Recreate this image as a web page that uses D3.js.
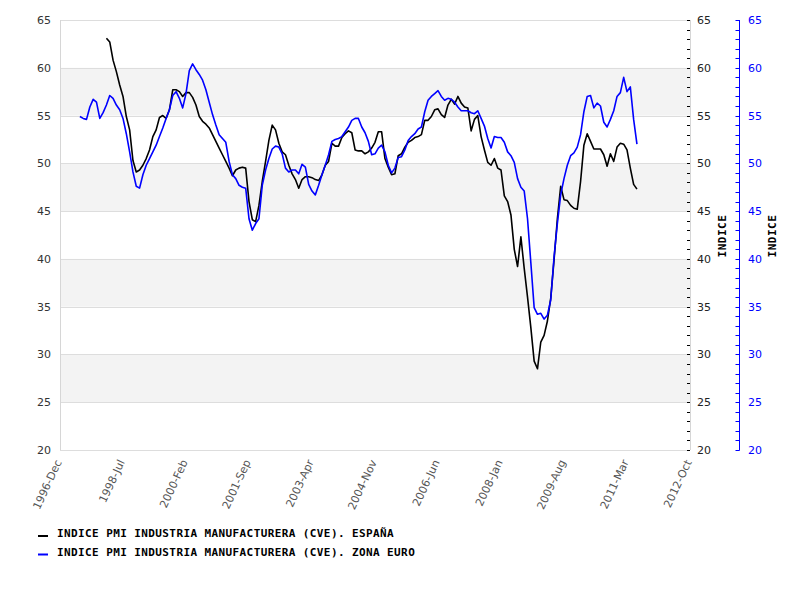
<!DOCTYPE html>
<html><head><meta charset="utf-8">
<script src="https://cdn.jsdelivr.net/npm/d3@7"></script>
<style>body{margin:0;background:#fff}</style>
</head><body>
<svg id="c" width="800" height="600"></svg>
<script>
const xTickLabels = ["1996-Dec","1998-Jul","2000-Feb","2001-Sep","2003-Apr","2004-Nov","2006-Jun","2008-Jan","2009-Aug","2011-Mar","2012-Oct"];
const yTicks = [20,25,30,35,40,45,50,55,60,65];
const seriesNames = ["INDICE PMI INDUSTRIA MANUFACTURERA (CVE). ESPAÑA","INDICE PMI INDUSTRIA MANUFACTURERA (CVE). ZONA EURO"];
const axisTitle = "INDICE";
const spainStart = "1998-Feb";
const euroStart = "1997-Jun";
const spainValues = [
 63.1,62.7,60.8,59.6,58.2,57.0,54.9,53.5,50.3,49.1,49.3,
 49.8,50.5,51.4,52.8,53.5,54.8,55.0,54.7,55.6,57.7,57.7,57.5,
 57.0,57.4,57.4,56.9,56.1,54.9,54.4,54.1,53.7,53.0,52.3,51.6,
 50.9,50.2,49.5,48.7,49.3,49.5,49.6,49.5,46.0,44.1,43.9,45.6,
 48.1,50.2,52.4,54.0,53.5,52.1,51.2,50.9,49.8,48.9,48.3,47.4,
 48.3,48.6,48.6,48.5,48.3,48.2,48.8,49.8,50.2,52.1,51.8,51.8,
 52.7,53.1,53.4,53.2,51.4,51.3,51.3,51.0,51.2,51.6,52.2,53.3,
 53.3,50.5,49.6,48.8,48.9,50.8,51.0,51.7,52.2,52.4,52.7,52.8,
 53.0,54.5,54.5,54.9,55.6,55.7,55.1,54.8,56.1,56.7,56.2,57.0,
 56.3,55.9,55.8,53.4,54.6,55.0,52.8,51.4,50.1,49.8,50.5,49.5,
 49.3,46.6,46.0,44.6,41.0,39.2,42.3,39.0,36.0,32.8,29.3,28.5,
 31.3,32.0,33.5,35.9,39.9,44.2,47.6,46.2,46.1,45.6,45.3,45.2,
 48.1,51.9,53.1,52.3,51.5,51.5,51.5,50.9,49.7,51.0,50.2,51.7,
 52.1,52.0,51.4,49.5,47.8,47.3
];
const euroValues = [
 54.9,54.7,54.6,55.9,56.7,56.4,54.7,
 55.3,56.1,57.1,56.8,56.1,55.6,54.7,53.1,51.2,49.1,47.6,47.4,
 48.8,49.8,50.5,51.2,51.9,52.8,53.7,54.7,55.6,57.1,57.5,56.8,
 55.8,57.3,59.7,60.4,59.8,59.3,58.7,57.7,56.4,55.1,54.0,53.0,
 52.6,52.2,50.2,48.8,48.4,47.7,47.5,47.4,44.2,43.0,43.7,44.2,
 47.7,49.3,50.5,51.5,51.8,51.7,51.0,49.5,49.1,49.3,49.3,48.9,
 49.9,49.6,47.8,47.1,46.7,47.7,48.8,49.8,50.9,52.3,52.5,52.6,
 52.8,53.3,53.8,54.5,54.7,54.7,53.8,53.2,52.3,50.9,51.0,51.6,
 51.9,51.2,49.8,49.0,49.5,50.6,50.7,51.4,52.4,52.8,53.1,53.6,
 53.8,55.4,56.6,57.0,57.3,57.6,57.0,56.6,56.8,56.7,56.4,55.9,
 55.5,55.5,55.5,55.3,55.2,55.5,54.7,53.9,52.6,51.6,52.8,52.7,
 52.7,52.2,51.2,50.8,50.1,48.4,47.5,47.1,44.2,39.6,34.9,34.2,
 34.3,33.7,34.1,35.7,40.2,43.7,46.7,48.4,49.8,50.8,51.1,51.7,
 53.0,55.4,57.0,57.1,55.8,56.3,56.0,54.3,53.8,54.6,55.5,57.0,
 57.4,59.0,57.5,58.0,54.6,52.0
];
const seriesColors = ["#000000","#0000ff"];

const parse = d3.timeParse("%Y-%b");
const mi = s => { const d = parse(s); return d.getFullYear()*12 + d.getMonth(); };
const svg = d3.select("#c");
const L = 60, R = 690, T = 20, B = 450;
const x = d3.scaleLinear().domain([mi(xTickLabels[0]), mi(xTickLabels[xTickLabels.length-1])]).range([L, R]);
const y = d3.scaleLinear().domain([20, 65]).range([B, T]);
const numFont = "DejaVu Sans, Verdana, sans-serif";
const monoFont = "DejaVu Sans Mono, monospace";

// bands
const bands = [25,35,45,55];
svg.append("g").selectAll("rect").data(bands).join("rect")
  .attr("x", L).attr("width", R-L)
  .attr("y", d => y(d+5)).attr("height", d => y(d)-y(d+5))
  .attr("fill", "#f3f3f3");
// grid
svg.append("g").selectAll("line").data(yTicks).join("line")
  .attr("x1", L).attr("x2", R)
  .attr("y1", d => Math.round(y(d))+0.5).attr("y2", d => Math.round(y(d))+0.5)
  .attr("stroke", "#dddddd");
// borders
svg.append("line").attr("x1", L+0.5).attr("x2", L+0.5).attr("y1", T).attr("y2", B).attr("stroke", "#d6d6d6");
svg.append("line").attr("x1", R+0.5).attr("x2", R+0.5).attr("y1", T).attr("y2", B).attr("stroke", "#d6d6d6");

// left axis labels
svg.append("g").selectAll("text").data(yTicks).join("text")
  .attr("x", 51).attr("y", d => y(d)+4)
  .attr("text-anchor", "end").attr("font-family", numFont).attr("font-size", 11).attr("fill", "#333")
  .text(d => d);

// right black axis
const minor = d3.range(20, 66, 1);
svg.append("g").selectAll("line").data(minor).join("line")
  .attr("x1", R-3).attr("x2", R)
  .attr("y1", d => Math.round(y(d))+0.5).attr("y2", d => Math.round(y(d))+0.5)
  .attr("stroke", "#000");
svg.append("g").selectAll("text").data(yTicks).join("text")
  .attr("x", 697).attr("y", d => y(d)+4)
  .attr("font-family", numFont).attr("font-size", 11).attr("fill", "#222")
  .text(d => d);

// right blue axis
const BX = 739.5;
svg.append("line").attr("x1", BX).attr("x2", BX).attr("y1", T).attr("y2", B+0.5).attr("stroke", "#0000ff");
svg.append("g").selectAll("line").data(minor).join("line")
  .attr("x1", BX-4).attr("x2", BX)
  .attr("y1", d => Math.round(y(d))+0.5).attr("y2", d => Math.round(y(d))+0.5)
  .attr("stroke", "#0000ff");
svg.append("g").selectAll("text").data(yTicks).join("text")
  .attr("x", 748).attr("y", d => y(d)+4)
  .attr("font-family", numFont).attr("font-size", 11).attr("fill", "#0000ff")
  .text(d => d);

// axis titles
[726, 776].forEach(px => {
  svg.append("text").attr("transform", `translate(${px},236) rotate(-90)`)
    .attr("text-anchor", "middle").attr("font-family", monoFont).attr("font-weight", "bold")
    .attr("font-size", 11).attr("letter-spacing", 0.5).attr("fill", "#000").text(axisTitle);
});

// x labels
svg.append("g").selectAll("text").data(xTickLabels).join("text")
  .attr("transform", d => `translate(${x(mi(d))+2},462) rotate(-65)`)
  .attr("text-anchor", "end").attr("font-family", numFont).attr("font-size", 11).attr("fill", "#555")
  .text(d => d);

// series
const mk = (start, vals) => vals.map((v, i) => ({m: mi(start) + i, v}));
const series = [mk(spainStart, spainValues), mk(euroStart, euroValues)];
const line = d3.line().x(d => x(d.m)).y(d => y(d.v));
svg.append("g").selectAll("path").data(series).join("path")
  .attr("d", line).attr("fill", "none")
  .attr("stroke", (d, i) => seriesColors[i]).attr("stroke-width", 1.6)
  .attr("stroke-linejoin", "round");

// legend
const lg = svg.append("g").selectAll("g").data(seriesNames).join("g")
  .attr("transform", (d, i) => `translate(0,${537 + i*18.5})`);
lg.append("line").attr("x1", 38).attr("x2", 48).attr("y1", -1).attr("y2", -1)
  .attr("stroke", (d, i) => seriesColors[i]).attr("stroke-width", 2);
lg.append("text").attr("x", 57).attr("y", 0)
  .attr("font-family", monoFont).attr("font-weight", "bold").attr("font-size", 11)
  .attr("letter-spacing", 0.4).attr("fill", "#000").text(d => d);
</script>
</body></html>
